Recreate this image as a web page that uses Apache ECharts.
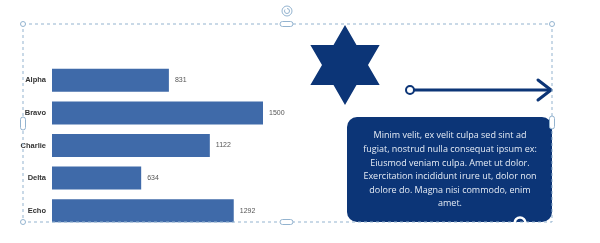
<!DOCTYPE html>
<html><head><meta charset="utf-8">
<script src="https://cdn.jsdelivr.net/npm/echarts@6/dist/echarts.min.js"></script>
<style>html,body{margin:0;padding:0;background:#fff}#c{width:600px;height:243px}</style>
</head><body><div id="c"></div>
<script>
const categories = ['Alpha', 'Bravo', 'Charlie', 'Delta', 'Echo'];
const values = [831, 1500, 1122, 634, 1292];
const boxText = 'Minim velit, ex velit culpa sed sint ad\nfugiat, nostrud nulla consequat ipsum ex:\nEiusmod veniam culpa. Amet ut dolor.\nExercitation incididunt irure ut, dolor non\ndolore do. Magna nisi commodo, enim\namet.';

const navy = '#0c3577';
const sel = '#93b3cf';

function starPoints(cx, cy, R, r) {
  const pts = [];
  for (let i = 0; i < 12; i++) {
    const a = -Math.PI / 2 + i * Math.PI / 6;
    const rad = i % 2 === 0 ? R : r;
    pts.push([cx + rad * Math.cos(a), cy + rad * Math.sin(a)]);
  }
  return pts;
}

const chart = echarts.init(document.getElementById('c'), null, {renderer: 'canvas'});
chart.setOption({
  animation: false,
  grid: {left: 52, top: 64, width: 211, height: 163, containLabel: false},
  xAxis: {type: 'value', min: 0, max: 1500, show: false, splitLine: {show: false}},
  yAxis: {
    type: 'category', data: categories, inverse: true,
    axisLine: {show: false}, axisTick: {show: false},
    axisLabel: {fontSize: 7.5, fontWeight: 'bold', color: '#333', margin: 6, fontFamily: 'Liberation Sans'}
  },
  series: [{
    type: 'bar', data: values, barWidth: 23,
    itemStyle: {color: '#3f6aa9'},
    label: {show: true, position: 'right', distance: 6, fontSize: 7, color: '#555', fontFamily: 'Liberation Sans'}
  }],
  graphic: [
    // star
    {type: 'polygon', z: 10, shape: {points: starPoints(345, 65, 40, 23)}, style: {fill: navy}},
    // arrow
    {type: 'line', z: 10, shape: {x1: 414, y1: 90, x2: 551, y2: 90}, style: {stroke: navy, lineWidth: 3}},
    {type: 'polyline', z: 10, shape: {points: [[538, 80], [551, 90], [538, 100]]}, style: {stroke: navy, lineWidth: 3, fill: null, lineCap: 'round', lineJoin: 'round'}},
    {type: 'circle', z: 11, shape: {cx: 410, cy: 90, r: 4}, style: {fill: '#fff', stroke: navy, lineWidth: 2}},
    // text box
    {type: 'rect', z: 10, shape: {x: 347, y: 117, width: 205, height: 105, r: 10}, style: {fill: navy}},
    {type: 'text', z: 11, x: 450, y: 129, style: {text: boxText, fill: '#e6ecf5', fontSize: 9, fontFamily: 'Open Sans', align: 'center', verticalAlign: 'top', lineHeight: 13.6}},
    // selection box
    {type: 'rect', z: 20, shape: {x: 23, y: 24, width: 529, height: 198}, style: {fill: null, stroke: sel, lineWidth: 1, lineDash: [3, 3]}},
    {type: 'circle', z: 21, shape: {cx: 23, cy: 24, r: 2.5}, style: {fill: '#fff', stroke: sel, lineWidth: 1}},
    {type: 'circle', z: 21, shape: {cx: 552, cy: 24, r: 2.5}, style: {fill: '#fff', stroke: sel, lineWidth: 1}},
    {type: 'circle', z: 21, shape: {cx: 23, cy: 222, r: 2.5}, style: {fill: '#fff', stroke: sel, lineWidth: 1}},
    {type: 'rect', z: 21, shape: {x: 280, y: 21.5, width: 13, height: 5, r: 2.5}, style: {fill: '#fff', stroke: sel, lineWidth: 1}},
    {type: 'rect', z: 21, shape: {x: 280, y: 219.5, width: 13, height: 5, r: 2.5}, style: {fill: '#fff', stroke: sel, lineWidth: 1}},
    {type: 'rect', z: 21, shape: {x: 20.5, y: 117, width: 5, height: 13, r: 2.5}, style: {fill: '#fff', stroke: sel, lineWidth: 1}},
    {type: 'rect', z: 21, shape: {x: 549.5, y: 116, width: 5, height: 13, r: 2.5}, style: {fill: '#fff', stroke: sel, lineWidth: 1}},
    // rotate handle
    {type: 'circle', z: 21, shape: {cx: 287, cy: 11, r: 5}, style: {fill: '#fff', stroke: sel, lineWidth: 1}},
    {type: 'arc', z: 22, shape: {cx: 287, cy: 11, r: 2.5, startAngle: -Math.PI / 2, endAngle: Math.PI * 1.2}, style: {fill: null, stroke: sel, lineWidth: 1}},
    // white ring bottom-right
    {type: 'circle', z: 22, shape: {cx: 520, cy: 223, r: 5.5}, style: {fill: null, stroke: '#fff', lineWidth: 2.5}}
  ]
});
</script>
</body></html>
